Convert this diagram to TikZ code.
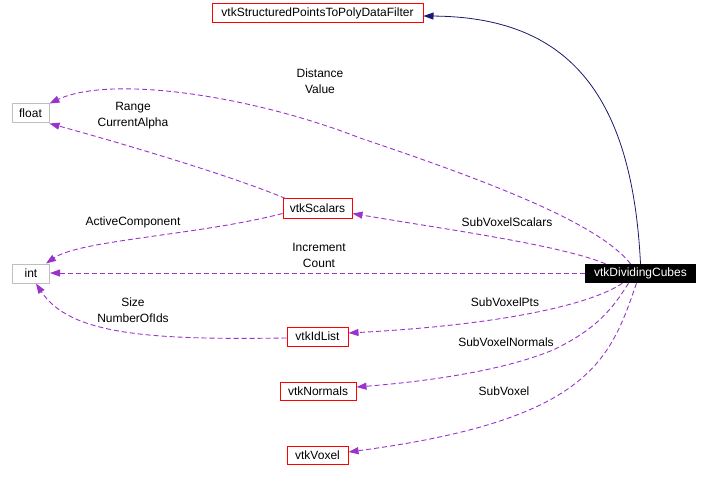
\documentclass[tikz,border=0pt]{standalone}
\usepackage{fontspec}
\setmainfont{Liberation Sans}
\usetikzlibrary{arrows.meta}
\definecolor{edgepurple}{HTML}{9A32CD}
\definecolor{edgeblue}{HTML}{191970}
\definecolor{boxgray}{HTML}{BFBFBF}
\begin{document}
\begin{tikzpicture}[x=1pt,y=-1pt,
 every node/.style={font=\fontsize{12}{16}\selectfont, inner sep=0pt},
 cls/.style={draw=red, line width=1pt, minimum height=19pt, fill=white},
 prim/.style={draw=boxgray, line width=1pt, minimum height=19pt, minimum width=37pt, fill=white},
 mainbox/.style={fill=black, text=white, minimum height=19pt, minimum width=111pt},
 usage/.style={draw=edgepurple, dash pattern=on 5pt off 3pt, -{Triangle[length=10pt,width=7pt]}, line width=0.9pt},
 inherit/.style={draw=edgeblue, -{Triangle[length=10pt,width=7pt]}, line width=0.8pt},
 lbl/.style={align=center}]
\useasboundingbox (0,0) rectangle (709,481);

\node[cls, minimum width=211pt] (filter) at (317.5,13.5) {vtkStructuredPointsToPolyDataFilter};
\node[prim] (float) at (30.5,113.5) {float};
\node[prim] (int) at (31,273.5) {int};
\node[cls, minimum width=69pt] (scal) at (317.5,208.5) {vtkScalars};
\node[cls, minimum width=61pt] (idl) at (317.5,336.5) {vtkIdList};
\node[cls, minimum width=76pt, minimum height=18pt] (norm) at (318,391) {vtkNormals};
\node[cls, minimum width=61pt, minimum height=18pt] (vox) at (317.5,455) {vtkVoxel};
\node[mainbox] (dc) at (640.5,273.5) {vtkDividingCubes};

% inheritance
\draw[inherit] (dc.north) .. controls (632,90) and (565,17) .. ([yshift=-2.5pt]filter.east);

% Distance / Value
\draw[usage] ([xshift=-10pt]dc.north) .. controls (600,225) and (500,185) .. (360,138)
  .. controls (250,95) and (110,75) .. (float.north east);
\node[lbl] (l1) at (320,81) {Distance\\Value};

% Range / CurrentAlpha
\draw[usage] ([xshift=3pt]scal.north west) .. controls (230,175) and (110,140) .. (float.south east);
\node[lbl] (l2) at (133,116) {Range\\CurrentAlpha};

% ActiveComponent
\draw[usage] ([yshift=-5pt]scal.west) .. controls (200,235) and (80,240) .. ([xshift=-4pt]int.north east);
\node[lbl] (l3) at (133,222) {ActiveComponent};

% SubVoxelScalars
\draw[usage] ([xshift=-35pt]dc.north) .. controls (560,245) and (450,230) .. ([yshift=-5pt]scal.east);
\node[lbl] (l4) at (507,222) {SubVoxelScalars};

% Increment / Count
\draw[usage, line width=1pt] ([yshift=0.5pt]dc.west) -- ([yshift=0.5pt]int.east);
\node[lbl] (l5) at (319,255) {Increment\\Count};

% Size / NumberOfIds
\draw[usage] ([yshift=-1.5pt]idl.west) .. controls (150,340) and (70,335) .. ([xshift=5pt]int.south);
\node[lbl] (l6) at (133,310) {Size\\NumberOfIds};

% SubVoxelPts
\draw[usage] ([xshift=-18pt]dc.south) .. controls (590,305) and (500,325) .. ([yshift=3.5pt]idl.east);
\node[lbl] (l7) at (505,302) {SubVoxelPts};

% SubVoxelNormals
\draw[usage] ([xshift=-12pt]dc.south) .. controls (612,310) and (595,330) .. (553,350)
  .. controls (500,372) and (420,382) .. ([yshift=4pt]norm.east);
\node[lbl] (l8) at (506,342) {SubVoxelNormals};

% SubVoxel
\draw[usage] ([xshift=-4pt]dc.south) .. controls (610,360) and (590,420) .. ([yshift=3pt]vox.east);
\node[lbl] (l9) at (504,391) {SubVoxel};
\end{tikzpicture}
\end{document}
